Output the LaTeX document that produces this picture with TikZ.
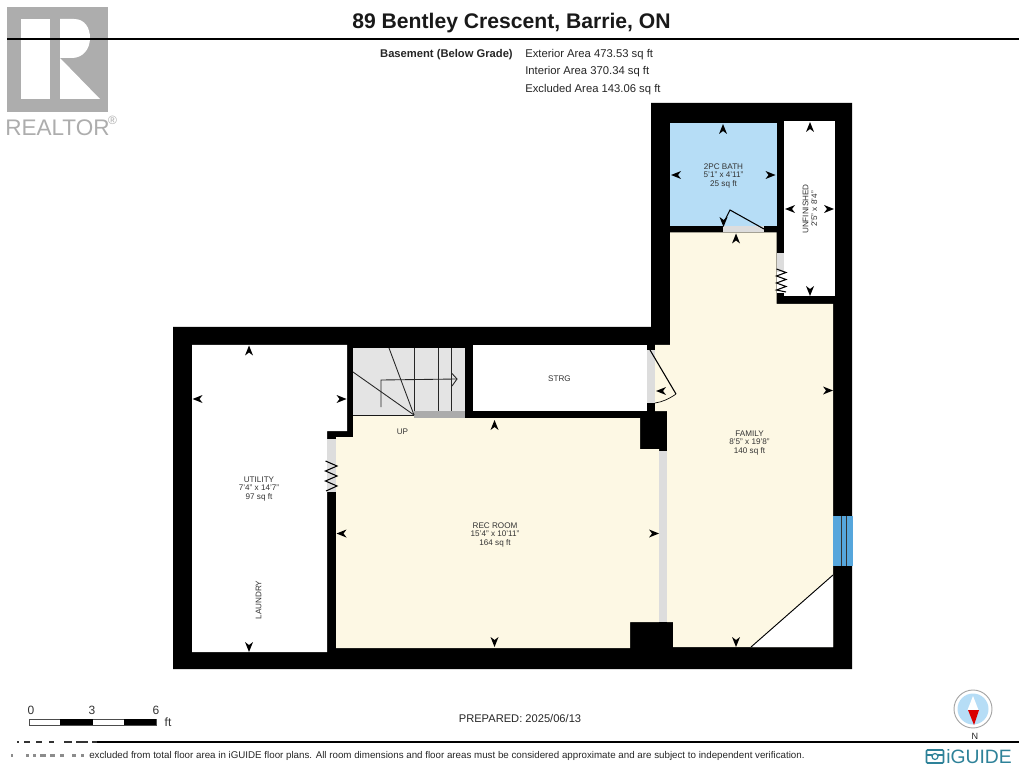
\documentclass[tikz,border=0pt]{standalone}
\usepackage{fontspec}
\setmainfont{Liberation Sans}
\begin{document}
\begin{tikzpicture}[x=0.75pt,y=-0.75pt,
  room/.style={align=center,font=\fontsize{6.1}{6.65}\selectfont,text=black!80,inner sep=0pt},
  info/.style={anchor=west,font=\fontsize{8.45}{10}\selectfont,text=black!85,inner sep=0pt},
  scalelab/.style={font=\fontsize{9}{10}\selectfont,text=black!80,inner sep=0pt},
  wallfill/.style={fill=black},
  stairline/.style={draw=black!85,line width=0.65pt},
  doorline/.style={draw=black,line width=0.8pt},
  zig/.style={draw=black,line width=0.8pt,line join=miter}]
\definecolor{cream}{HTML}{FDF8E4}
\definecolor{bath}{HTML}{B6DDF6}
\definecolor{opening}{HTML}{DDDDDD}
\definecolor{stairgray}{HTML}{E4E4E4}
\definecolor{landing}{HTML}{ABABAB}
\definecolor{windowblue}{HTML}{56A6DC}
\definecolor{logogray}{HTML}{ADADAD}
\definecolor{iguide}{HTML}{2E8299}
\newcommand{\mk}[3]{\fill[black,shift={(#1,#2)},rotate=#3] (0,0) -- (-10,-4) -- (-7,0) -- (-10,4) -- cycle;}
\useasboundingbox (0,0) rectangle (1024,766);
\fill[white] (0,0) rectangle (1024,766);

% Realtor logo
\fill[logogray] (7,7) rectangle (108,112);
\fill[white] (21,19) rectangle (50,99);
\fill[white] (60,19) -- (74,19) .. controls (85,19) and (90,28) .. (90,38) .. controls (90,49) and (83,58) .. (72,58) -- (60,58) -- (100,99) -- (60,99) -- cycle;
\node[inner sep=0pt,anchor=west,text=logogray,font=\fontsize{16.9}{18}\selectfont] (realtor) at (5,128) {REALTOR};
\node[inner sep=0pt,text=logogray,font=\fontsize{9}{9}\selectfont] (regmark) at (112.5,120) {®};

% Title and rules
\node[inner sep=0pt,font=\bfseries\fontsize{15.85}{17}\selectfont,text=black!90] (title) at (511.5,23) {89 Bentley Crescent, Barrie, ON};
\fill[black] (7,38) rectangle (1019,40);
\fill[black] (97,741) rectangle (1019,743);
\foreach \a/\b in {17/19,24/30,36/42,49/54,64/72,76/88,92/97}{\fill[black!80] (\a,741.3) rectangle (\b,743);}

% Area info
\node[inner sep=0pt,anchor=east,font=\bfseries\fontsize{8.4}{10}\selectfont,text=black!85] (basement) at (513,54.5) {Basement (Below Grade)};
\node[info] (ext) at (525,54.5) {Exterior Area 473.53 sq ft};
\node[info] (int) at (525,72) {Interior Area 370.34 sq ft};
\node[info] (exc) at (525,89.5) {Excluded Area 143.06 sq ft};

% Outer walls
\fill[wallfill] (651,103) -- (852,103) -- (852,669) -- (173,669) -- (173,327) -- (651,327) -- cycle;

% Rooms
\fill[bath] (670,123) rectangle (776.5,226);
\fill[white] (784,121) rectangle (835,296);
\fill[cream] (670,232.5) -- (776.5,232.5) -- (776.5,304) -- (833,304) -- (833,647) -- (673,647) -- (673,622) -- (667,622) -- (667,411) -- (655,411) -- (655,345) -- (670,345) -- cycle;
\fill[white] (751,647) -- (833,575) -- (833,647) -- cycle;
\draw[black,line width=0.7pt] (751,647) -- (833,575);
\fill[white] (473,345) rectangle (647,410.5);
\fill[white] (192,345) -- (347,345) -- (347,431) -- (327,431) -- (327,652) -- (192,652) -- cycle;
\fill[cream] (353,415) -- (414,415) -- (414,418) -- (640,418) -- (640,449) -- (659,449) -- (659,622) -- (630,622) -- (630,648) -- (336,648) -- (336,437) -- (353,437) -- cycle;

% Stairs
\fill[stairgray] (353,348) rectangle (465,414.5);
\fill[landing] (414,410.5) rectangle (465,418);
\draw[black!90,line width=0.7pt] (353,415) -- (414,415);
\draw[stairline] (414,348) -- (414,410.5);
\draw[stairline] (438,348) -- (438,410.5);
\draw[stairline] (451,348) -- (451,410.5);
\draw[stairline] (414,415) -- (389,348);
\draw[stairline] (414,415) -- (353,372);
\draw[stairline] (381,407) -- (381,380) -- (457,379);
\draw[stairline] (452,373.5) -- (457,379) -- (452,386);

% Openings
\fill[opening] (723,226) rectangle (764,232.5);
\fill[opening] (776.5,253) rectangle (784,272);
\fill[opening] (327,439) rectangle (336,492);
\fill[opening] (647,350) rectangle (655,403);
\fill[opening] (659,451) rectangle (667,622);
\fill[white] (776.5,272) rectangle (784,293);

% Sliding / bifold marks
\draw[zig] (325.5,461) -- (337,466) -- (325.5,471) -- (337,476) -- (325.5,481) -- (337,486) -- (326,491);
\draw[zig] (776.5,269) -- (786,272.5) -- (776.5,276) -- (786,279.5) -- (776.5,283) -- (786,286.5) -- (776.5,290) -- (786,292);

% Doors
\draw[doorline] (764,229) -- (730,210) -- (725,220);
\draw[doorline] (650,350) -- (676,394);
\draw[black,line width=0.5pt] (676,394) .. controls (669,399) and (662,402) .. (655,403);

% Window
\fill[windowblue] (833,516) rectangle (853,566);
\draw[black!80,line width=0.6pt] (841,516) -- (841,566) (846.5,516) -- (846.5,566);

% Dimension markers
\mk{723}{124}{90}\mk{671}{175}{180}\mk{775.5}{175}{0}\mk{723.5}{227}{270}
\mk{736}{233.5}{90}
\mk{810}{122}{90}\mk{810}{296}{270}\mk{785}{209}{180}\mk{834}{209}{0}
\mk{833}{390.5}{0}\mk{656}{391}{180}\mk{736}{647}{270}
\mk{659}{533.5}{0}\mk{494.5}{420}{90}\mk{336.5}{533.5}{180}\mk{494.5}{647}{270}
\mk{249}{345.5}{90}\mk{192.5}{399}{180}\mk{346.5}{399}{0}\mk{249}{652}{270}

% Room labels
\node[room] (bathlab) at (723.5,176) {2PC BATH\\5'1" x 4'11"\\25 sq ft};
\node[room,rotate=90] (unfin) at (810,209) {UNFINISHED\\2'5" x 8'4"};
\node[room] (strg) at (559.5,378.5) {STRG};
\node[room] (up) at (402.5,432) {UP};
\node[room] (family) at (749.5,443) {FAMILY\\8'5" x 19'8"\\140 sq ft};
\node[room] (rec) at (495,535) {REC ROOM\\15'4" x 10'11"\\164 sq ft};
\node[room] (util) at (259,489) {UTILITY\\7'4" x 14'7"\\97 sq ft};
\node[room,rotate=90] (laundry) at (258.5,600) {LAUNDRY};

% Scale bar
\draw[black!70,line width=0.5pt,fill=white] (29,719) rectangle (156,725);
\fill[black] (60,719) rectangle (93,725);
\fill[black] (124,719) rectangle (156,725);
\node[scalelab] (s0) at (31,710) {0};
\node[scalelab] (s3) at (92,710) {3};
\node[scalelab] (s6) at (156,710) {6};
\node[scalelab] (sft) at (168,722) {ft};

\node[inner sep=0pt,font=\fontsize{8.35}{10}\selectfont,text=black!85] (prepared) at (520,719) {PREPARED: 2025/06/13};

% Footer
\node[inner sep=0pt,anchor=west,font=\fontsize{7.32}{9}\selectfont,text=black!85] (footer) at (89,755.5) {excluded from total floor area in iGUIDE floor plans. All room dimensions and floor areas must be considered approximate and are subject to independent verification.};
\foreach \a/\b in {11/13,26/29,33/36,40/46,50/55,60/64,72/76,81/84}{\fill[black!45] (\a,753.5) rectangle (\b,757);}

% Compass
\draw[black!35,line width=0.7pt,fill=white] (973,709) circle (19);
\fill[bath] (973,709) circle (15.5);
\fill[white] (973,696) -- (978.5,710) -- (967.5,710) -- cycle;
\fill[red!85!black] (968,710) -- (979,710) -- (974,725) -- cycle;
\node[inner sep=0pt,font=\fontsize{6.8}{8}\selectfont,text=black!85] (north) at (975,736) {N};

% iGUIDE logo
\draw[iguide,line width=1.2pt,rounded corners=0.8pt] (926.5,750) rectangle (943.5,763);
\draw[iguide,line width=0.9pt] (935,756.5) circle (3);
\draw[iguide,line width=0.9pt] (927,755) -- (932,755) (938,755) -- (943,755);
\node[inner sep=0pt,anchor=west,text=iguide,font=\fontsize{14.5}{16}\selectfont] (iguidelab) at (946,756.5) {iGUIDE};
\end{tikzpicture}
\end{document}
